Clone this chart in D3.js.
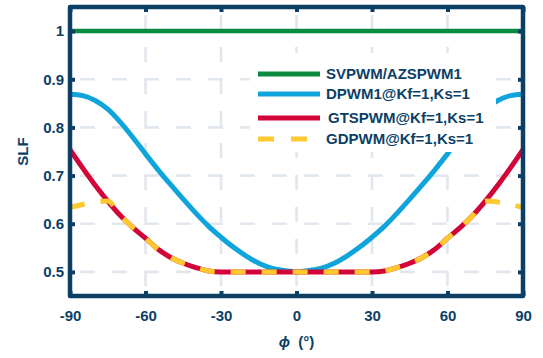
<!DOCTYPE html>
<html>
<head>
<meta charset="utf-8">
<script src="https://cdn.jsdelivr.net/npm/d3@7"></script>
<style>
  body { margin: 0; background: #fff; }
  svg { display: block; font-family: "Liberation Sans", Arial, sans-serif; }
</style>
</head>
<body>
<svg></svg>
<script>
const size = {w: 543, h: 358};
const margin = {t: 7, r: 20, b: 62, l: 70};
const canvasSize = {w: size.w - margin.l - margin.r, h: size.h - margin.t - margin.b};
const navy = '#0c3f66';

// phase angle in degrees (5 degree steps)
const phi = d3.range(-90, 91, 5);
// SLF, index 0 = 0 deg ... 18 = 90 deg (curves are symmetric)
const svpwmHalf = [1,1,1,1,1,1,1,1,1,1,1,1,1,1,1,1,1,1,1];
const dpwmHalf = [0.500,0.503,0.508,0.518,0.533,0.551,0.572,0.595,0.622,0.651,0.681,0.712,0.745,0.779,0.811,0.838,0.856,0.866,0.869];
const gtspwmHalf = [0.500,0.500,0.500,0.500,0.500,0.500,0.500,0.502,0.509,0.518,0.530,0.547,0.570,0.592,0.617,0.647,0.680,0.716,0.754];
const gdpwmHalf = [0.500,0.500,0.500,0.500,0.500,0.500,0.500,0.502,0.509,0.518,0.530,0.547,0.570,0.592,0.617,0.647,0.645,0.640,0.634];

const seriesNames = ['SVPWM/AZSPWM1', 'DPWM1@Kf=1,Ks=1', 'GTSPWM@Kf=1,Ks=1', 'GDPWM@Kf=1,Ks=1'];
const colorPalette = ['#0a8a3e', '#0fa5dc', '#d20438', '#fec831'];
const xTicks = [-90, -60, -30, 0, 30, 60, 90];
const yTicks = [0.5, 0.6, 0.7, 0.8, 0.9, 1];

function fullSeries(half) {
    return phi.map(p => ({phi: p, v: half[Math.abs(p) / 5]}));
}
const series = [svpwmHalf, dpwmHalf, gtspwmHalf, gdpwmHalf].map(fullSeries);

const svg = d3.select('svg')
    .attr('width', size.w)
    .attr('height', size.h);

const containerG = svg.append('g')
    .attr('transform', `translate(${margin.l}, ${margin.t})`);

const scaleX = d3.scaleLinear().domain([-90, 90]).range([0, canvasSize.w]);
const scaleY = d3.scaleLinear().domain([0.45, 1.05]).range([canvasSize.h, 0]);

//GRID
containerG.selectAll('.gridX')
    .data(xTicks.slice(1, -1))
    .join('line')
    .attr('x1', d => scaleX(d)).attr('x2', d => scaleX(d))
    .attr('y1', 0).attr('y2', canvasSize.h)
    .attr('stroke', '#e1e7ed').attr('stroke-width', 2.6)
    .attr('stroke-dasharray', '15,17')
    .attr('stroke-dashoffset', -8);

containerG.selectAll('.gridY')
    .data(yTicks)
    .join('line')
    .attr('x1', 0).attr('x2', canvasSize.w)
    .attr('y1', d => scaleY(d)).attr('y2', d => scaleY(d))
    .attr('stroke', '#e1e7ed').attr('stroke-width', 2.6)
    .attr('stroke-dasharray', '15,17')
    .attr('stroke-dashoffset', -10);

//CURVES
const line = d3.line()
    .x(d => scaleX(d.phi))
    .y(d => scaleY(d.v))
    .curve(d3.curveMonotoneX);

series.forEach((s, i) => {
    containerG.append('path')
        .datum(s)
        .attr('d', line)
        .attr('fill', 'none')
        .attr('stroke', colorPalette[i])
        .attr('stroke-width', i === 0 ? 4.5 : 5)
        .attr('stroke-dasharray', i === 3 ? '15,16' : null);
});

//AXES
const axisB = d3.axisBottom(scaleX).tickValues(xTicks).tickSize(-5).tickPadding(14)
    .tickFormat(d => String(d)).tickSizeOuter(0);
const axisT = d3.axisTop(scaleX).tickValues(xTicks).tickSize(-5).tickFormat('').tickSizeOuter(0);
const axisL = d3.axisLeft(scaleY).tickValues(yTicks).tickSize(-5).tickPadding(6)
    .tickFormat(d => String(d)).tickSizeOuter(0);
const axisR = d3.axisRight(scaleY).tickValues(yTicks).tickSize(-5).tickFormat('').tickSizeOuter(0);

const axes = [
    [axisB, `translate(0, ${canvasSize.h})`],
    [axisT, 'translate(0, 0)'],
    [axisL, 'translate(0, 0)'],
    [axisR, `translate(${canvasSize.w}, 0)`]
];
axes.forEach(([ax, tr]) => {
    const g = containerG.append('g').attr('transform', tr).call(ax);
    g.select('.domain').remove();
    g.selectAll('line').attr('stroke', navy).attr('stroke-width', 4);
    g.selectAll('text')
        .attr('fill', navy)
        .style('font-size', '15px')
        .style('font-weight', 'bold');
});

//LEGEND (white box, no border, covers the curves behind it)
const legend = svg.append('g').attr('transform', 'translate(258, 74)');
const legendRows = [0, 20, 44, 65];

legend.append('rect')
    .attr('x', -8).attr('y', -21)
    .attr('width', 246).attr('height', 99)
    .attr('fill', '#fff');

legend.selectAll('.legendLine')
    .data(seriesNames)
    .join('line')
    .attr('x1', 0).attr('x2', (d, i) => i === 3 ? 50 : 62)
    .attr('y1', (d, i) => legendRows[i]).attr('y2', (d, i) => legendRows[i])
    .attr('stroke', (d, i) => colorPalette[i])
    .attr('stroke-width', 5)
    .attr('stroke-dasharray', (d, i) => i === 3 ? '16,17' : null);

legend.selectAll('.legendText')
    .data(seriesNames)
    .join('text')
    .attr('x', (d, i) => i === 2 ? 70 : 68)
    .attr('y', (d, i) => legendRows[i] + 5)
    .attr('fill', navy)
    .style('font-size', '15px')
    .style('font-weight', 'bold')
    .text(d => d);

containerG.append('rect')
    .attr('width', canvasSize.w)
    .attr('height', canvasSize.h)
    .attr('fill', 'none')
    .attr('stroke', navy)
    .attr('stroke-width', 4.5)
    .attr('stroke-linejoin', 'round');

//AXIS TITLES
const xTitle = svg.append('text')
    .attr('x', margin.l + scaleX(0))
    .attr('y', 347)
    .attr('text-anchor', 'middle')
    .attr('fill', navy)
    .style('font-size', '15px')
    .style('font-weight', 'bold');
xTitle.append('tspan').style('font-style', 'italic').text('ϕ');
xTitle.append('tspan').text('\u00a0 (°)');

svg.append('text')
    .attr('transform', `translate(28, ${margin.t + scaleY(0.75)}) rotate(-90)`)
    .attr('text-anchor', 'middle')
    .attr('fill', navy)
    .style('font-size', '15px')
    .style('font-weight', 'bold')
    .text('SLF');
</script>
</body>
</html>
